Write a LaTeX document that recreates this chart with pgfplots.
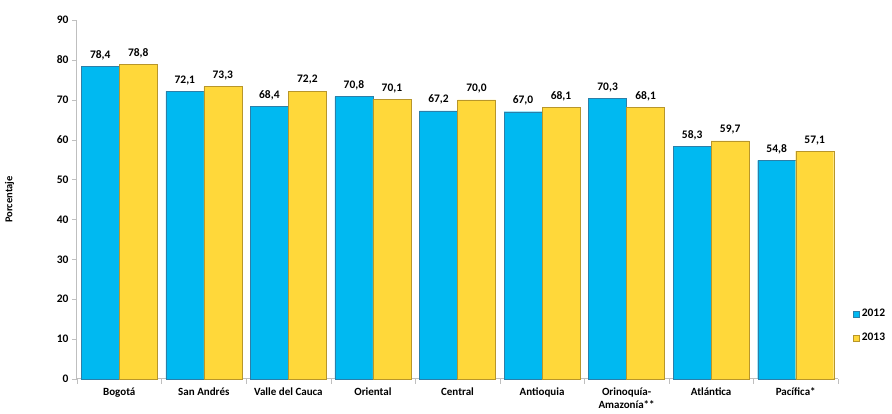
\documentclass[border=0pt]{standalone}
\usepackage{pgfplots}
\pgfplotsset{compat=1.18}
\usepackage{fontspec}
\setmainfont{Carlito}
\definecolor{azul}{HTML}{00B9F1}
\definecolor{azulborde}{HTML}{2C7FA8}
\definecolor{amarillo}{HTML}{FFD83A}
\definecolor{amarilloborde}{HTML}{B8962A}
\definecolor{ejegris}{HTML}{BFBFBF}
\begin{document}
\begin{tikzpicture}
\useasboundingbox (-77pt,-35pt) rectangle (815pt,379pt);
\begin{axis}[
    at={(0pt,0pt)}, anchor=south west,
    scale only axis,
    width=761pt, height=359pt,
    ybar=0pt, bar width=38pt,
    xmin=-0.5, xmax=8.5,
    ymin=0, ymax=90,
    ytick={0,10,...,90},
    xtick={0,...,8},
    xticklabels={Bogotá, San Andrés, Valle del Cauca, Oriental, Central, Antioquia, {Orinoquía-\\Amazonía**}, Atlántica, Pacífica*},
    major x tick style={draw=none},
    minor xtick={-0.5,0.5,...,8.5},
    minor x tick style={draw=ejegris},
    minor tick length=5pt,
    major tick length=5pt,
    tick align=outside,
    y tick style={draw=ejegris},
    axis lines*=left,
    axis line style={draw=ejegris, line width=1pt},
    every outer x axis line/.append style={-}, every outer y axis line/.append style={-},
    xticklabel style={font=\fontsize{11}{13}\selectfont\bfseries, align=center, text depth=0pt},
    yticklabel style={font=\fontsize{11.5}{12}\selectfont\bfseries},
    /pgf/number format/assume math mode=true,
    ylabel={Porcentaje},
    ylabel style={font=\fontsize{10.5}{11}\selectfont\bfseries, at={(axis description cs:-0.078,0.5)}},
    nodes near coords,
    nodes near coords style={font=\fontsize{11.5}{12}\selectfont\bfseries, yshift=3pt, /pgf/number format/.cd, fixed, fixed zerofill, precision=1, use comma, assume math mode=true},
    legend style={at={(1.02,0.148)}, anchor=west, draw=none, font=\fontsize{11.5}{12}\selectfont\bfseries, row sep=11pt, inner sep=0pt},
    legend image code/.code={\fill[#1] (0pt,-3pt) rectangle (6pt,3pt);},
    clip=false,
]
\addplot[fill=azul, draw=azulborde] coordinates {(0,78.4) (1,72.1) (2,68.4) (3,70.8) (4,67.2) (5,67.0) (6,70.3) (7,58.3) (8,54.8)};
\addplot[fill=amarillo, draw=amarilloborde] coordinates {(0,78.8) (1,73.3) (2,72.2) (3,70.1) (4,70.0) (5,68.1) (6,68.1) (7,59.7) (8,57.1)};
\legend{2012, 2013}
\end{axis}
\end{tikzpicture}
\end{document}
